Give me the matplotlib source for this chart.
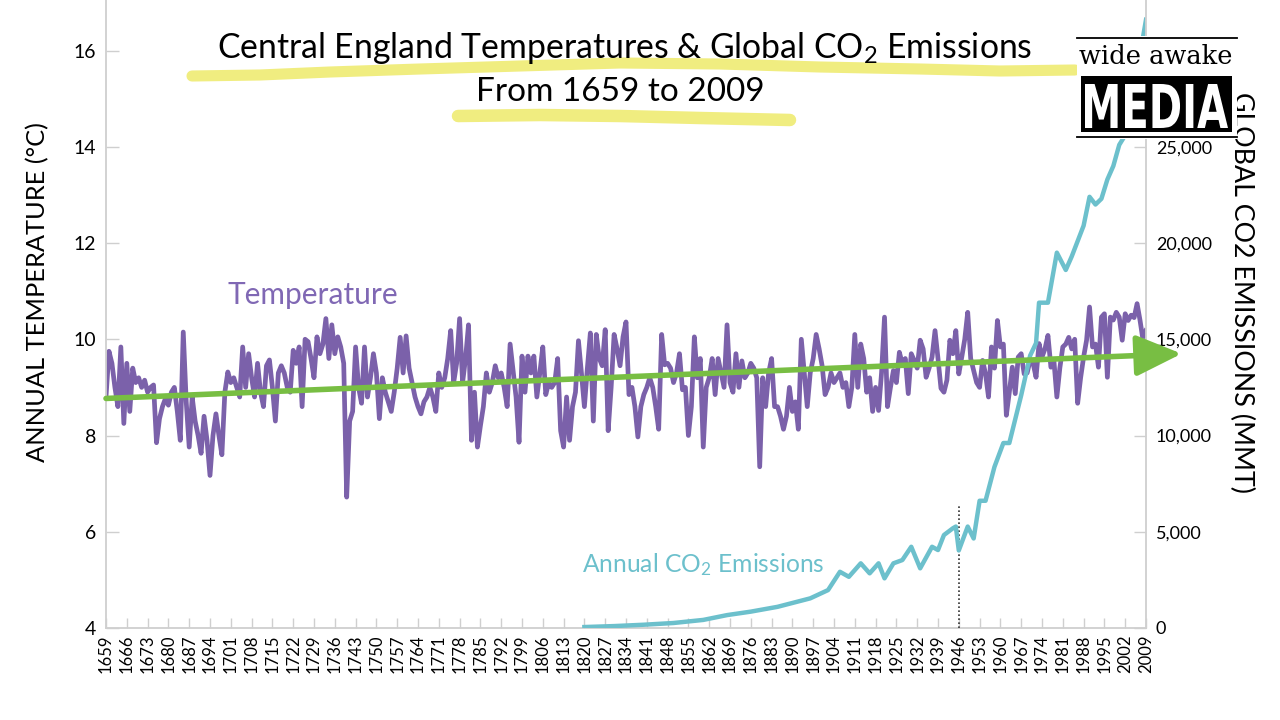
import numpy as np
import matplotlib
matplotlib.use("Agg")
import matplotlib.pyplot as plt
from matplotlib.patches import Rectangle, ArrowStyle, PathPatch
from matplotlib.lines import Line2D
from matplotlib.ticker import FuncFormatter
from matplotlib.textpath import TextPath
from matplotlib.font_manager import FontProperties
from matplotlib.transforms import Affine2D, IdentityTransform

plt.rcParams['font.family'] = ['Lato', 'DejaVu Sans']
plt.rcParams['mathtext.fontset'] = 'custom'
plt.rcParams['mathtext.rm'] = 'Lato'
plt.rcParams['mathtext.it'] = 'Lato:italic'
plt.rcParams['mathtext.bf'] = 'Lato:bold'

# Central England annual mean temperature (deg C), 1659-2009
t1650s = [8.8, 9.75, 9.5, 9.0, 8.6, 9.84, 8.25, 9.5, 8.5, 9.4, 9.1]
t1670s = [9.2, 9.0, 9.15, 8.9, 9.0, 9.05, 7.85, 8.35, 8.6, 8.77]
t1680s = [8.63, 8.9, 9.0, 8.5, 7.9, 10.15, 8.7, 7.76, 8.8, 8.3]
t1690s = [8.0, 7.63, 8.4, 7.9, 7.17, 8.0, 8.45, 8.0, 7.6, 8.9]
t1700s = [9.32, 9.1, 9.2, 9.0, 8.8, 9.84, 9.0, 9.7, 9.2, 8.8]
t1710s = [9.5, 8.9, 8.6, 9.45, 9.57, 9.0, 8.3, 9.3, 9.45, 9.3]
t1720s = [9.0, 8.9, 9.77, 9.5, 9.84, 8.6, 10.0, 9.95, 9.6, 9.2]
t1730s = [10.05, 9.7, 9.9, 10.43, 9.6, 10.3, 9.7, 10.05, 9.84, 9.5]
t1740s = [6.72, 8.3, 8.5, 9.84, 9.0, 8.67, 9.84, 8.8, 9.2, 9.7]
t1750s = [9.3, 8.35, 9.2, 8.9, 8.7, 8.5, 8.9, 9.4, 10.04, 9.3]
t1760s = [10.07, 9.4, 9.1, 8.8, 8.6, 8.45, 8.7, 8.8, 9.0, 8.8]
t1770s = [8.5, 9.3, 9.0, 9.2, 9.6, 10.18, 9.1, 9.5, 10.43, 9.1]
t1780s = [9.6, 10.3, 7.9, 8.9, 7.76, 8.2, 8.6, 9.3, 8.9, 9.1]
t1790s = [9.45, 9.2, 9.3, 9.0, 8.6, 9.9, 9.35, 8.8, 7.86, 9.65]
t1800s = [8.9, 9.65, 9.3, 9.65, 8.8, 9.3, 9.84, 8.85, 9.1, 9.0]
t1810s = [9.1, 9.6, 8.1, 7.76, 8.8, 7.9, 8.6, 8.9, 9.97, 9.3]
t1820s = [8.6, 9.4, 10.13, 8.3, 10.1, 9.6, 9.45, 10.2, 8.1, 9.0]
t1830s = [10.1, 9.8, 9.45, 10.05, 10.36, 8.85, 9.0, 8.6, 7.97, 8.6]
t1840s = [8.85, 9.0, 9.2, 9.0, 8.6, 8.13, 10.1, 9.47, 9.5, 9.4]
t1850s = [9.1, 9.3, 9.7, 8.95, 9.0, 8.0, 8.6, 10.05, 9.2, 9.6]
t1860s = [7.76, 9.0, 9.2, 9.6, 8.85, 9.6, 9.3, 9.0, 10.3, 9.1]
t1870s = [8.9, 9.7, 9.0, 9.55, 9.2, 9.3, 9.5, 9.4, 9.2, 7.35]
t1880s = [9.2, 8.6, 9.3, 9.6, 8.6, 8.6, 8.4, 8.13, 8.4, 9.0]
t1890s = [8.5, 8.7, 8.13, 10.0, 9.3, 8.6, 9.3, 9.6, 10.1, 9.8]
t1900s = [9.45, 8.85, 9.0, 9.3, 9.1, 9.2, 9.3, 9.0, 9.1, 8.6]
t1910s = [9.0, 10.1, 9.0, 9.9, 9.6, 8.9, 9.2, 8.5, 9.0, 8.52]
t1920s = [9.3, 10.46, 8.6, 9.0, 9.35, 9.1, 9.73, 9.49, 9.6, 8.87]
t1930s = [9.7, 9.56, 9.4, 9.98, 9.8, 9.21, 9.4, 9.63, 10.18, 9.6]
t1940s = [8.98, 8.9, 9.15, 9.98, 9.7, 10.18, 9.28, 9.63, 10.0, 10.56]
t1950s = [9.6, 9.35, 9.1, 9.0, 9.56, 9.28, 8.8, 9.84, 9.4, 10.39]
t1960s = [9.84, 9.9, 8.42, 8.9, 9.42, 8.87, 9.63, 9.7, 9.28, 9.3]
t1970s = [9.56, 9.5, 9.21, 9.91, 9.63, 9.8, 10.08, 9.42, 9.56, 8.8]
t1980s = [9.4, 9.84, 9.9, 10.04, 9.8, 10.0, 8.67, 9.2, 9.63, 9.98]
t1990s = [10.67, 9.84, 9.9, 9.42, 10.46, 10.53, 9.21, 10.46, 10.4, 10.56]
t2000s = [10.46, 9.98, 10.53, 10.39, 10.5, 10.45, 10.74, 10.39, 9.98, 10.18]

temp = (t1650s + t1670s + t1680s + t1690s + t1700s + t1710s + t1720s + t1730s
        + t1740s + t1750s + t1760s + t1770s + t1780s + t1790s + t1800s + t1810s
        + t1820s + t1830s + t1840s + t1850s + t1860s + t1870s + t1880s + t1890s
        + t1900s + t1910s + t1920s + t1930s + t1940s + t1950s + t1960s + t1970s
        + t1980s + t1990s + t2000s)
years = np.arange(1659, 1659 + len(temp))

# global CO2 emissions (MMT)
co2_year = [1820, 1830, 1840, 1850, 1860, 1868, 1876, 1885, 1890, 1896,
            1902, 1906, 1909, 1913, 1916, 1919, 1921, 1924, 1927, 1930,
            1933, 1937, 1939, 1941, 1944, 1945, 1946, 1949, 1951, 1953,
            1955, 1958, 1961, 1963, 1967, 1970, 1972, 1973, 1976, 1979,
            1982, 1984, 1988, 1990, 1992, 1994, 1996, 1998, 2000, 2002,
            2004, 2007, 2009]
co2_mmt = [50, 100, 170, 260, 420, 670, 850, 1100, 1300, 1540,
           1970, 2920, 2660, 3360, 2840, 3360, 2580, 3360, 3530, 4220,
           3100, 4220, 4050, 4830, 5180, 5270, 4030, 5270, 4650, 6610,
           6610, 8370, 9610, 9610, 12090, 14150, 14800, 16900, 16900, 19500,
           18600, 19300, 20900, 22400, 22000, 22300, 23300, 24000, 25100, 25600,
           27400, 29800, 31600]

# trend arrow (start / end)
trend_year = [1659, 2021]
trend_temp = [8.77, 9.70]

marker_year = 1946
marker_top = 6390

PURPLE = '#7b61aa'
TEAL = '#6cc0cc'
GREEN = '#78be43'
GREY = '#cfcfcf'
YELLOW = '#eeea6a'

W, H = 1280, 720
fig = plt.figure(figsize=(12.8, 7.2), dpi=100)


def fx(px):
    return px / W


def fy(py):
    return 1 - py / H


ax = fig.add_axes([106 / W, 1 - 628 / H, 1040 / W, 628 / H])
ax2 = ax.twinx()

ax.plot(years, temp, color=PURPLE, lw=3.4, solid_joinstyle='round', zorder=2)
ax.set_xlim(1659, 2009)
ax.set_ylim(4, 17.05)
xt = np.arange(1659, 2010, 7)
ax.set_xticks(xt)
ax.set_xticklabels([str(v) for v in xt], rotation=90, fontsize=12)
ax.set_yticks(range(4, 17, 2))
ax.tick_params(axis='x', direction='in', length=7, width=1, colors=GREY,
               labelcolor='black', pad=5)
ax.tick_params(axis='y', direction='in', length=9, width=1, colors=GREY,
               labelcolor='black', labelsize=14, pad=7)

ax2.plot(co2_year, co2_mmt, color=TEAL, lw=3.2, solid_joinstyle='round', zorder=2)
ax2.plot([marker_year, marker_year], [0, marker_top], color='#333333', lw=1.2,
         ls=(0, (1, 1.4)), zorder=1)
ax2.set_ylim(0, 30000 * 13.05 / 12)
ax2.set_yticks(range(0, 25001, 5000))
ax2.yaxis.set_major_formatter(FuncFormatter(lambda v, p: f'{int(v):,}'))
ax2.tick_params(axis='y', direction='in', length=9, width=1, colors=GREY,
                labelcolor='black', labelsize=13, pad=7)

for a in (ax, ax2):
    a.spines['top'].set_visible(False)
    for s in ('left', 'right', 'bottom'):
        a.spines[s].set_color(GREY)
        a.spines[s].set_linewidth(1.3)
ax.spines['right'].set_visible(False)
ax2.spines['left'].set_visible(False)
ax2.spines['bottom'].set_visible(False)

# green trend arrow, drawn on top
ax2.annotate('', xy=(trend_year[1], trend_temp[1]), xycoords=ax.transData,
             xytext=(trend_year[0], trend_temp[0]), textcoords=ax.transData,
             annotation_clip=False,
             arrowprops=dict(arrowstyle=ArrowStyle('-|>', head_length=1.0, head_width=0.45),
                             mutation_scale=28, color=GREEN, lw=4, shrinkA=0, shrinkB=0,
                             clip_on=False))

# axis titles
fig.text(fx(38), fy(292), 'ANNUAL TEMPERATURE (°C)', rotation=90, ha='center',
         va='center', fontsize=18.3)
fig.text(fx(1242), fy(292), 'GLOBAL CO2 EMISSIONS (MMT)', rotation=270, ha='center',
         va='center', fontsize=19.3)

# series labels
fig.text(fx(228), fy(295), 'Temperature', color='#8068b4', fontsize=21.5,
         ha='left', va='center')
fig.text(fx(582), fy(565), 'Annual CO$_2$ Emissions', color=TEAL, fontsize=17.7,
         ha='left', va='center')

# highlighter strokes under the title
s1 = [(192, 76), (260, 75), (330, 72), (420, 69), (520, 66), (620, 63),
      (720, 64), (820, 67), (920, 69), (1000, 71), (1075, 70)]
s2 = [(458, 116), (540, 115), (620, 116), (700, 118), (790, 120)]
for s, w in ((s1, 8), (s2, 9)):
    fig.add_artist(Line2D([fx(p[0]) for p in s], [fy(p[1]) for p in s],
                          color=YELLOW, lw=w, alpha=0.85, solid_capstyle='round',
                          zorder=3))

fig.text(fx(625), fy(48), 'Central England Temperatures & Global CO$_2$ Emissions',
         ha='center', va='center', fontsize=24.3, zorder=4)
fig.text(fx(620), fy(92), 'From 1659 to 2009', ha='center', va='center',
         fontsize=24, zorder=4)

# logo
fig.add_artist(Rectangle((fx(1077), fy(139)), 160 / W, 103 / H, transform=fig.transFigure,
                         facecolor='white', edgecolor='none', zorder=5))
for yy in (38, 137):
    fig.add_artist(Line2D([fx(1077), fx(1237)], [fy(yy), fy(yy)], color='black',
                          lw=1.3, zorder=6))
fig.text(fx(1156), fy(56), 'wide awake', ha='center', va='center', fontsize=18.5,
         family='DejaVu Serif', color='black', zorder=7)
fig.add_artist(Rectangle((fx(1081), fy(132)), 151 / W, 56 / H, transform=fig.transFigure,
                         facecolor='black', edgecolor='none', zorder=6))

# condensed "MEDIA" lettering: squeeze a bold outline into the box (pixel coords)
tp = TextPath((0, 0), 'MEDIA', size=1, prop=FontProperties(family='DejaVu Sans', weight='bold'))
ext = tp.get_extents()
x0, x1, y_top, y_bot = 1085, 1228, 84, 128
sx = (x1 - x0) / ext.width
sy = (y_bot - y_top) / ext.height
media_tf = Affine2D().translate(-ext.x0, -ext.y0).scale(sx, sy).translate(x0, H - y_bot)
fig.add_artist(PathPatch(media_tf.transform_path(tp), transform=IdentityTransform(),
                         facecolor='white', edgecolor='none', zorder=7))

fig.savefig('out.png', dpi=100)
